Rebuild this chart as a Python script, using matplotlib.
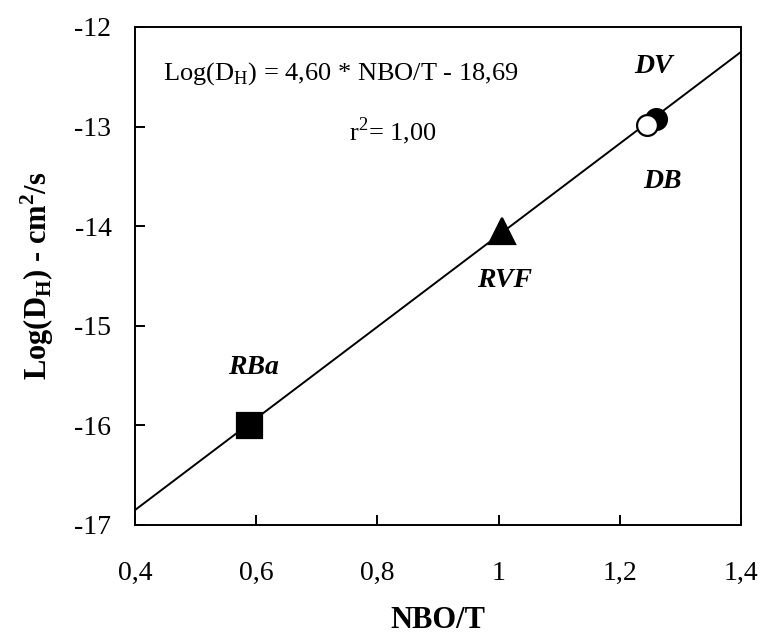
import numpy as np
import matplotlib
matplotlib.use("Agg")
import matplotlib.pyplot as plt

plt.rcParams['font.family'] = ['Liberation Serif', 'DejaVu Serif']
plt.rcParams['mathtext.fontset'] = 'custom'
plt.rcParams['mathtext.rm'] = 'Liberation Serif'
plt.rcParams['mathtext.bf'] = 'Liberation Serif:bold'

# -------- DATA -------- #
samples = ["RBa", "RVF", "DB", "DV"]
nbo_t = [0.588, 1.005, 1.245, 1.26]
log_dh = [-16.0, -14.05, -12.98, -12.92]
markers = ["s", "^", "o", "o"]
fills = ["black", "black", "white", "black"]
sizes = [18, 19, 15, 15]

slope = 4.60
intercept = -18.69

fig = plt.figure(figsize=(7.63, 6.37), dpi=100)
ax = fig.add_axes([135 / 763, 1 - 525 / 637, (741 - 135) / 763, (525 - 27) / 637])

# regression line across the whole axis
xl = np.array([0.4, 1.4])
ax.plot(xl, slope * xl + intercept, color="black", lw=1.4, zorder=1)

# DV drawn before DB so the open circle sits on top
for i in [0, 1, 3, 2]:
    ax.plot(nbo_t[i], log_dh[i], marker=markers[i], markersize=sizes[i],
            markerfacecolor=fills[i], markeredgecolor="black",
            markeredgewidth=1.6, linestyle="none", zorder=3)

# sample labels
lbl_pos = {"RBa": (0.595, -15.42), "RVF": (1.01, -14.55),
           "DB": (1.27, -13.55), "DV": (1.255, -12.4)}
for s in samples:
    ax.text(*lbl_pos[s], s, fontsize=20, fontweight="bold", style="italic",
            ha="center", va="center")

ax.text(0.447, -12.47, r"Log(D$_\mathrm{H}$) = 4,60 * NBO/T - 18,69",
        fontsize=19, ha="left", va="center")
ax.text(0.825, -13.05, r"r$^2$= 1,00", fontsize=19, ha="center", va="center")

ax.set_xlim(0.4, 1.4)
ax.set_ylim(-17, -12)
ax.set_xticks([0.4, 0.6, 0.8, 1.0, 1.2, 1.4])
ax.set_xticklabels(["0,4", "0,6", "0,8", "1", "1,2", "1,4"])
ax.set_yticks([-17, -16, -15, -14, -13, -12])
ax.set_yticklabels(["-17", "-16", "-15", "-14", "-13", "-12"])
ax.tick_params(direction="in", length=7, width=1.4, labelsize=20)
ax.tick_params(axis="x", pad=26)
ax.tick_params(axis="y", pad=17)
for sp in ax.spines.values():
    sp.set_linewidth(1.4)

ax.set_xlabel("NBO/T", fontsize=22, fontweight="bold", labelpad=14)
ax.set_ylabel(r"$\mathbf{Log(D_H)}$ - cm$^\mathbf{2}$/s", fontsize=22,
              fontweight="bold", labelpad=13)

fig.savefig("out.png", dpi=100)
